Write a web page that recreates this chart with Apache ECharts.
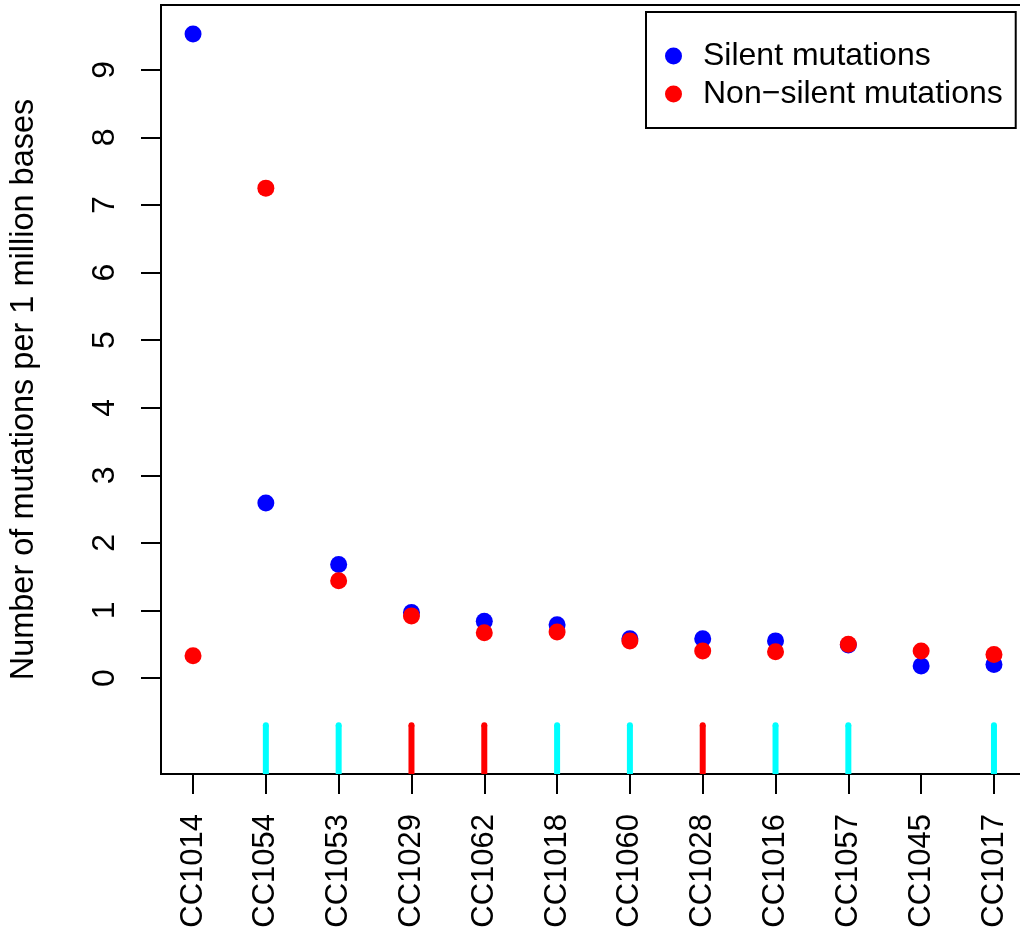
<!DOCTYPE html>
<html>
<head>
<meta charset="utf-8">
<script src="https://cdn.jsdelivr.net/npm/echarts@6/dist/echarts.min.js"></script>
<style>
html,body{margin:0;padding:0;background:#fff;}
#chart{width:1020px;height:935px;}
</style>
</head>
<body>
<div id="chart"></div>
<script>
var categories = ["CC1014","CC1054","CC1053","CC1029","CC1062","CC1018","CC1060","CC1028","CC1016","CC1057","CC1045","CC1017"];
var silent = [9.53, 2.59, 1.68, 0.97, 0.84, 0.79, 0.58, 0.58, 0.55, 0.49, 0.18, 0.20];
var nonSilent = [0.33, 7.25, 1.44, 0.92, 0.67, 0.68, 0.55, 0.40, 0.39, 0.50, 0.40, 0.35];
var groupColors = ["", "#00FFFF", "#00FFFF", "#FF0000", "#FF0000", "#00FFFF", "#00FFFF", "#FF0000", "#00FFFF", "#00FFFF", "", "#00FFFF"];
var yTicks = [0,1,2,3,4,5,6,7,8,9];
var markTop = -0.7;
var yMin = -1.42, yMax = 9.96;

var FONT = '"Liberation Sans", Arial, Helvetica, sans-serif';
var xIdx = categories.map(function(c, i){ return i + 1; });

var silentData = silent.map(function(v, i){ return [i + 1, v]; });
var nonSilentData = nonSilent.map(function(v, i){ return [i + 1, v]; });
var markData = [];
groupColors.forEach(function(c, i){ if (c) markData.push([i + 1, markTop, yMin, c]); });

var chart = echarts.init(document.getElementById('chart'), null, {renderer: 'canvas'});
chart.setOption({
  backgroundColor: '#fff',
  animation: false,
  grid: {
    left: 161, top: 5, width: 865, height: 769,
    show: true, borderColor: '#000', borderWidth: 2, backgroundColor: 'transparent',
    containLabel: false, outerBoundsMode: 'none'
  },
  legend: {
    orient: 'vertical',
    left: 646, top: 12,
    icon: 'circle',
    itemWidth: 17, itemHeight: 17,
    itemGap: 6,
    padding: [28, 13, 18, 19],
    borderColor: '#000', borderWidth: 2,
    backgroundColor: '#fff',
    textStyle: {fontSize: 32, color: '#000', fontFamily: FONT, padding: [0, 0, 0, 16]},
    data: ['Silent mutations', 'Non\u2212silent mutations']
  },
  xAxis: {
    type: 'value',
    min: 0.56, max: 12.44,
    splitLine: {show: false},
    axisLine: {show: true, onZero: false, lineStyle: {color: '#000', width: 2}},
    axisTick: {show: true, length: 20, lineStyle: {color: '#000', width: 2}, customValues: xIdx},
    axisLabel: {
      customValues: xIdx,
      rotate: 90, margin: 40,
      fontSize: 31, color: '#000', fontFamily: FONT,
      formatter: function(v){ return categories[Math.round(v) - 1] || ''; }
    }
  },
  yAxis: {
    type: 'value',
    min: yMin, max: yMax,
    name: 'Number of mutations per 1 million bases',
    nameLocation: 'middle',
    nameRotate: 90,
    nameGap: 120,
    nameTextStyle: {fontSize: 32.5, color: '#000', fontFamily: FONT},
    splitLine: {show: false},
    axisLine: {show: true, onZero: false, lineStyle: {color: '#000', width: 2}},
    axisTick: {show: true, length: 20, lineStyle: {color: '#000', width: 2}, customValues: yTicks},
    axisLabel: {
      customValues: yTicks,
      rotate: 90, margin: 40,
      fontSize: 32, color: '#000', fontFamily: FONT
    }
  },
  series: [
    {
      type: 'custom',
      name: 'groups',
      clip: true,
      data: markData,
      renderItem: function(params, api){
        var x = api.value(0);
        var top = api.coord([x, api.value(1)]);
        var bot = api.coord([x, api.value(2)]);
        var c = markData[params.dataIndex][3];
        return {
          type: 'group',
          children: [
            {type: 'line', shape: {x1: top[0], y1: top[1], x2: bot[0], y2: bot[1]}, style: {stroke: c, lineWidth: 6, lineCap: 'butt'}},
            {type: 'circle', shape: {cx: top[0], cy: top[1], r: 3}, style: {fill: c}}
          ]
        };
      },
      silent: true,
      z: 2
    },
    {
      type: 'scatter',
      name: 'Silent mutations',
      data: silentData,
      symbol: 'circle',
      symbolSize: 17,
      itemStyle: {color: '#0000FF', opacity: 1},
      z: 3
    },
    {
      type: 'scatter',
      name: 'Non\u2212silent mutations',
      data: nonSilentData,
      symbol: 'circle',
      symbolSize: 17,
      itemStyle: {color: '#FF0000', opacity: 1},
      z: 4
    }
  ]
});
</script>
</body>
</html>
